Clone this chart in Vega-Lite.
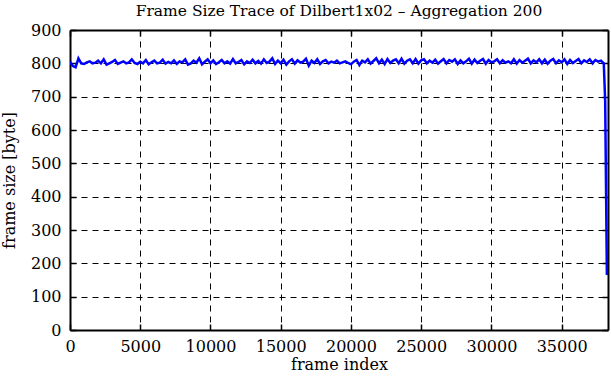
{
  "$schema": "https://vega.github.io/schema/vega-lite/v6.json",
  "width": 538,
  "height": 300,
  "autosize": "none",
  "padding": {"left": 70, "top": 30, "right": 3, "bottom": 50},
  "background": "white",
  "config": {
    "font": "DejaVu Serif",
    "view": {"stroke": null},
    "axis": {
      "labelFont": "DejaVu Serif", "titleFont": "DejaVu Serif",
      "labelFontSize": 16, "titleFontSize": 16, "labelColor": "black", "titleColor": "black",
      "titleFontWeight": "normal", "domainColor": "black", "domainWidth": 2,
      "tickColor": "black", "tickWidth": 1.5
    }
  },
  "title": {"text": "Frame Size Trace of Dilbert1x02 – Aggregation 200", "font": "DejaVu Serif", "fontSize": 15.5, "fontWeight": "normal", "color": "black", "offset": 3},
  "data": {"values": [
    {"frame":0,"size":805},{"frame":200,"size":792},{"frame":400,"size":788},{"frame":600,"size":815},{"frame":800,"size":800},{"frame":1000,"size":798},{"frame":1200,"size":803},{"frame":1400,"size":806},{"frame":1600,"size":800},{"frame":1800,"size":802},
    {"frame":2000,"size":808},{"frame":2200,"size":800},{"frame":2400,"size":812},{"frame":2600,"size":796},{"frame":2800,"size":800},{"frame":3000,"size":804},{"frame":3200,"size":810},{"frame":3400,"size":798},{"frame":3600,"size":802},{"frame":3800,"size":806},
    {"frame":4000,"size":800},{"frame":4200,"size":803},{"frame":4400,"size":812},{"frame":4600,"size":801},{"frame":4800,"size":798},{"frame":5000,"size":805},{"frame":5200,"size":800},{"frame":5400,"size":810},{"frame":5600,"size":797},{"frame":5800,"size":803},
    {"frame":6000,"size":808},{"frame":6200,"size":800},{"frame":6400,"size":802},{"frame":6600,"size":811},{"frame":6800,"size":799},{"frame":7000,"size":804},{"frame":7200,"size":800},{"frame":7400,"size":809},{"frame":7600,"size":798},{"frame":7800,"size":806},
    {"frame":8000,"size":803},{"frame":8200,"size":812},{"frame":8400,"size":796},{"frame":8600,"size":800},{"frame":8800,"size":808},{"frame":9000,"size":802},{"frame":9200,"size":815},{"frame":9400,"size":797},{"frame":9600,"size":805},{"frame":9800,"size":812},
    {"frame":10000,"size":800},{"frame":10200,"size":809},{"frame":10400,"size":798},{"frame":10600,"size":803},{"frame":10800,"size":810},{"frame":11000,"size":800},{"frame":11200,"size":806},{"frame":11400,"size":799},{"frame":11600,"size":813},{"frame":11800,"size":800},
    {"frame":12000,"size":804},{"frame":12200,"size":810},{"frame":12400,"size":797},{"frame":12600,"size":806},{"frame":12800,"size":801},{"frame":13000,"size":811},{"frame":13200,"size":800},{"frame":13400,"size":807},{"frame":13600,"size":799},{"frame":13800,"size":812},
    {"frame":14000,"size":801},{"frame":14200,"size":805},{"frame":14400,"size":815},{"frame":14600,"size":798},{"frame":14800,"size":808},{"frame":15000,"size":800},{"frame":15200,"size":811},{"frame":15400,"size":796},{"frame":15600,"size":806},{"frame":15800,"size":812},
    {"frame":16000,"size":799},{"frame":16200,"size":809},{"frame":16400,"size":802},{"frame":16600,"size":805},{"frame":16800,"size":814},{"frame":17000,"size":793},{"frame":17200,"size":808},{"frame":17400,"size":801},{"frame":17600,"size":812},{"frame":17800,"size":798},
    {"frame":18000,"size":806},{"frame":18200,"size":810},{"frame":18400,"size":800},{"frame":18600,"size":805},{"frame":18800,"size":802},{"frame":19000,"size":808},{"frame":19200,"size":800},{"frame":19400,"size":803},{"frame":19600,"size":806},{"frame":19800,"size":801},
    {"frame":20000,"size":797},{"frame":20200,"size":805},{"frame":20400,"size":810},{"frame":20600,"size":795},{"frame":20800,"size":808},{"frame":21000,"size":803},{"frame":21200,"size":812},{"frame":21400,"size":799},{"frame":21600,"size":807},{"frame":21800,"size":815},
    {"frame":22000,"size":800},{"frame":22200,"size":811},{"frame":22400,"size":798},{"frame":22600,"size":813},{"frame":22800,"size":801},{"frame":23000,"size":808},{"frame":23200,"size":812},{"frame":23400,"size":800},{"frame":23600,"size":814},{"frame":23800,"size":799},
    {"frame":24000,"size":808},{"frame":24200,"size":812},{"frame":24400,"size":800},{"frame":24600,"size":813},{"frame":24800,"size":799},{"frame":25000,"size":809},{"frame":25200,"size":812},{"frame":25400,"size":800},{"frame":25600,"size":808},{"frame":25800,"size":802},
    {"frame":26000,"size":811},{"frame":26200,"size":799},{"frame":26400,"size":806},{"frame":26600,"size":813},{"frame":26800,"size":800},{"frame":27000,"size":810},{"frame":27200,"size":805},{"frame":27400,"size":812},{"frame":27600,"size":798},{"frame":27800,"size":809},
    {"frame":28000,"size":800},{"frame":28200,"size":806},{"frame":28400,"size":814},{"frame":28600,"size":799},{"frame":28800,"size":811},{"frame":29000,"size":801},{"frame":29200,"size":808},{"frame":29400,"size":813},{"frame":29600,"size":799},{"frame":29800,"size":810},
    {"frame":30000,"size":803},{"frame":30200,"size":806},{"frame":30400,"size":812},{"frame":30600,"size":800},{"frame":30800,"size":809},{"frame":31000,"size":802},{"frame":31200,"size":806},{"frame":31400,"size":800},{"frame":31600,"size":812},{"frame":31800,"size":799},
    {"frame":32000,"size":810},{"frame":32200,"size":802},{"frame":32400,"size":808},{"frame":32600,"size":814},{"frame":32800,"size":800},{"frame":33000,"size":809},{"frame":33200,"size":803},{"frame":33400,"size":812},{"frame":33600,"size":800},{"frame":33800,"size":811},
    {"frame":34000,"size":799},{"frame":34200,"size":808},{"frame":34400,"size":813},{"frame":34600,"size":800},{"frame":34800,"size":809},{"frame":35000,"size":803},{"frame":35200,"size":812},{"frame":35400,"size":798},{"frame":35600,"size":810},{"frame":35800,"size":801},
    {"frame":36000,"size":807},{"frame":36200,"size":813},{"frame":36400,"size":800},{"frame":36600,"size":809},{"frame":36800,"size":804},{"frame":37000,"size":812},{"frame":37200,"size":800},{"frame":37400,"size":810},{"frame":37600,"size":805},{"frame":37800,"size":808},
    {"frame":38000,"size":800},{"frame":38100,"size":685},{"frame":38220,"size":165}
  ]},
  "layer": [
    {
      "mark": {"type": "line", "color": "#0000ff", "strokeWidth": 2.5, "clip": true},
      "encoding": {
        "x": {"field": "frame", "type": "quantitative", "scale": {"domain": [0, 38300], "nice": false, "zero": true},
          "axis": {"title": "frame index", "values": [0,5000,10000,15000,20000,25000,30000,35000], "format": "d",
            "grid": true, "gridColor": "black", "gridDash": [6, 5], "gridWidth": 1, "gridOpacity": 1,
            "tickSize": -6, "labelPadding": 14, "titlePadding": 2, "labelFlush": false, "labelOverlap": false}},
        "y": {"field": "size", "type": "quantitative", "scale": {"domain": [0, 900], "nice": false},
          "axis": {"title": "frame size [byte]", "values": [0,100,200,300,400,500,600,700,800,900],
            "grid": true, "gridColor": "black", "gridDash": [6, 5], "gridWidth": 1, "gridOpacity": 1,
            "tickSize": -6, "labelPadding": 15, "titlePadding": 13}}
      }
    },
    {
      "mark": {"type": "line", "opacity": 0},
      "encoding": {
        "x": {"field": "frame", "type": "quantitative", "scale": {"domain": [0, 38300], "nice": false},
          "axis": {"orient": "top", "title": null, "labels": false, "values": [0,5000,10000,15000,20000,25000,30000,35000], "tickSize": -6, "grid": false}},
        "y": {"field": "size", "type": "quantitative", "scale": {"domain": [0, 900], "nice": false},
          "axis": {"orient": "right", "title": null, "labels": false, "values": [0,100,200,300,400,500,600,700,800,900], "tickSize": -6, "grid": false}}
      }
    }
  ],
  "resolve": {"axis": {"x": "independent", "y": "independent"}}
}
